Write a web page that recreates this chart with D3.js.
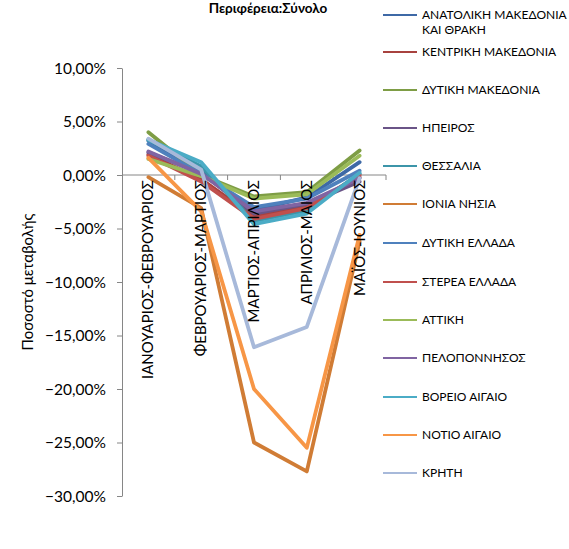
<!DOCTYPE html>
<html><head><meta charset="utf-8">
<script src="https://cdn.jsdelivr.net/npm/d3@7"></script>
<style>body{margin:0;background:#fff}svg{display:block;font-family:Lato,"Open Sans",sans-serif}</style>
</head><body><div id="chart"></div>
<script>
const categories = ["ΙΑΝΟΥΑΡΙΟΣ-ΦΕΒΡΟΥΑΡΙΟΣ","ΦΕΒΡΟΥΑΡΙΟΣ-ΜΑΡΤΙΟΣ","ΜΑΡΤΙΟΣ-ΑΠΡΙΛΙΟΣ","ΑΠΡΙΛΙΟΣ-ΜΑΙΟΣ","ΜΑΪΟΣ-ΙΟΥΝΙΟΣ"];
const regions = ["ΑΝΑΤΟΛΙΚΗ ΜΑΚΕΔΟΝΙΑ ΚΑΙ ΘΡΑΚΗ","ΚΕΝΤΡΙΚΗ ΜΑΚΕΔΟΝΙΑ","ΔΥΤΙΚΗ ΜΑΚΕΔΟΝΙΑ","ΗΠΕΙΡΟΣ","ΘΕΣΣΑΛΙΑ","ΙΟΝΙΑ ΝΗΣΙΑ","ΔΥΤΙΚΗ ΕΛΛΑΔΑ","ΣΤΕΡΕΑ ΕΛΛΑΔΑ","ΑΤΤΙΚΗ","ΠΕΛΟΠΟΝΝΗΣΟΣ","ΒΟΡΕΙΟ ΑΙΓΑΙΟ","ΝΟΤΙΟ ΑΙΓΑΙΟ","ΚΡΗΤΗ"];
const anatoliki   = [3.2, 0.3, -3.3, -2.1, 1.2];
const kentriki    = [1.9, -0.4, -3.9, -2.9, -0.2];
const dytikiMak   = [4.0, 0.0, -2.0, -1.6, 2.3];
const ipeiros     = [2.1, 0.2, -3.6, -2.7, -0.6];
const thessalia   = [3.3, 0.8, -4.3, -3.3, 0.1];
const ionia       = [-0.2, -3.1, -25.0, -27.7, -6.2];
const dytikiEll   = [2.9, 0.1, -3.0, -2.2, 0.4];
const sterea      = [1.8, -0.6, -4.1, -3.1, 0.0];
const attiki      = [1.5, -0.1, -2.2, -1.8, 1.8];
const peloponnisos= [2.2, 0.1, -3.4, -2.6, -0.3];
const voreio      = [3.3, 1.2, -4.6, -3.6, 0.2];
const notio       = [1.6, -3.4, -20.0, -25.5, -5.6];
const kriti       = [3.4, 0.5, -16.1, -14.2, -0.3];
const seriesValues = [anatoliki,kentriki,dytikiMak,ipeiros,thessalia,ionia,dytikiEll,sterea,attiki,peloponnisos,voreio,notio,kriti];
const colors = ["#3E69A6","#A8423F","#7E9D45","#6A5487","#3C95A9","#D07C35","#4F81BD","#C0504D","#9BBB59","#8064A2","#4BACC6","#F79646","#A7B9DA"];
const yTicks = [10,5,0,-5,-10,-15,-20,-25,-30];
const title = "Περιφέρεια:Σύνολο";
const yTitle = "Ποσοστό μεταβολής";

const W=569,H=549;
const svg=d3.select("#chart").append("svg").attr("width",W).attr("height",H);
const x=d3.scaleBand().domain(categories).range([122,386]);
const y=d3.scaleLinear().domain([-30,10]).range([496,68]);
const fmt=v=>d3.format(".2f")(v).replace(".",",")+"%";

// y axis
const yAxis=svg.append("g").attr("transform","translate(122,0)")
  .call(d3.axisLeft(y).tickValues(yTicks).tickSize(5).tickFormat(fmt).tickSizeOuter(0));
yAxis.select(".domain").attr("stroke","#868686");
yAxis.selectAll(".tick line").attr("stroke","#868686");
yAxis.selectAll("text").attr("font-size",15.5).attr("fill","#000").attr("x",-16).attr("dy","0.35em")
  .attr("font-family","Lato");

// x axis at zero
const xAxis=svg.append("g").attr("transform",`translate(0,${y(0)})`)
  .call(d3.axisBottom(x).tickSize(0).tickFormat(""));
xAxis.select(".domain").attr("stroke","#868686").attr("d",`M122,0H386`);
const bounds=categories.map(c=>x(c)+x.bandwidth());
xAxis.selectAll(".bt").data(bounds).join("line").attr("class","bt")
  .attr("x1",d=>d).attr("x2",d=>d).attr("y1",0).attr("y2",5).attr("stroke","#868686");

// lines
const line=d3.line().x((d,i)=>x(categories[i])+x.bandwidth()/2).y(d=>y(d));
svg.append("g").selectAll("path").data(seriesValues).join("path")
  .attr("d",line).attr("fill","none").attr("stroke",(d,i)=>colors[i])
  .attr("stroke-width",3.8).attr("stroke-linejoin","round").attr("stroke-linecap","round");

// category labels
svg.append("g").selectAll("text").data(categories).join("text")
  .attr("transform",d=>`translate(${x(d)+x.bandwidth()/2+5},${y(0)+5}) rotate(-90)`)
  .attr("text-anchor","end").attr("font-size",15).attr("fill","#000").text(d=>d);

// y title
svg.append("text").attr("transform","translate(33,282) rotate(-90)").attr("text-anchor","middle")
  .attr("font-size",15).attr("fill","#000").text(yTitle);

// title
svg.append("text").attr("x",268).attr("y",13).attr("text-anchor","middle").attr("font-weight","bold")
  .attr("font-size",13.5).attr("fill","#000").text(title);

// legend
const lg=svg.append("g");
const legendY=[15,52,90,128,166,204,243,282,320,358,397,435,473];
regions.forEach((r,i)=>{
  const g=lg.append("g").attr("transform",`translate(0,${legendY[i]})`);
  g.append("line").attr("x1",383).attr("x2",417).attr("y1",0).attr("y2",0).attr("stroke",colors[i]).attr("stroke-width",2.2);
  const t=g.append("text").attr("x",422).attr("y",0).attr("dy","0.35em").attr("font-size",12).attr("fill","#000");
  if(i===0){
    t.text("ΑΝΑΤΟΛΙΚΗ ΜΑΚΕΔΟΝΙΑ");
    g.append("text").attr("x",422).attr("y",15).attr("dy","0.35em").attr("font-size",12).attr("fill","#000").text("ΚΑΙ ΘΡΑΚΗ");
  } else t.text(r);
});
</script></body></html>
